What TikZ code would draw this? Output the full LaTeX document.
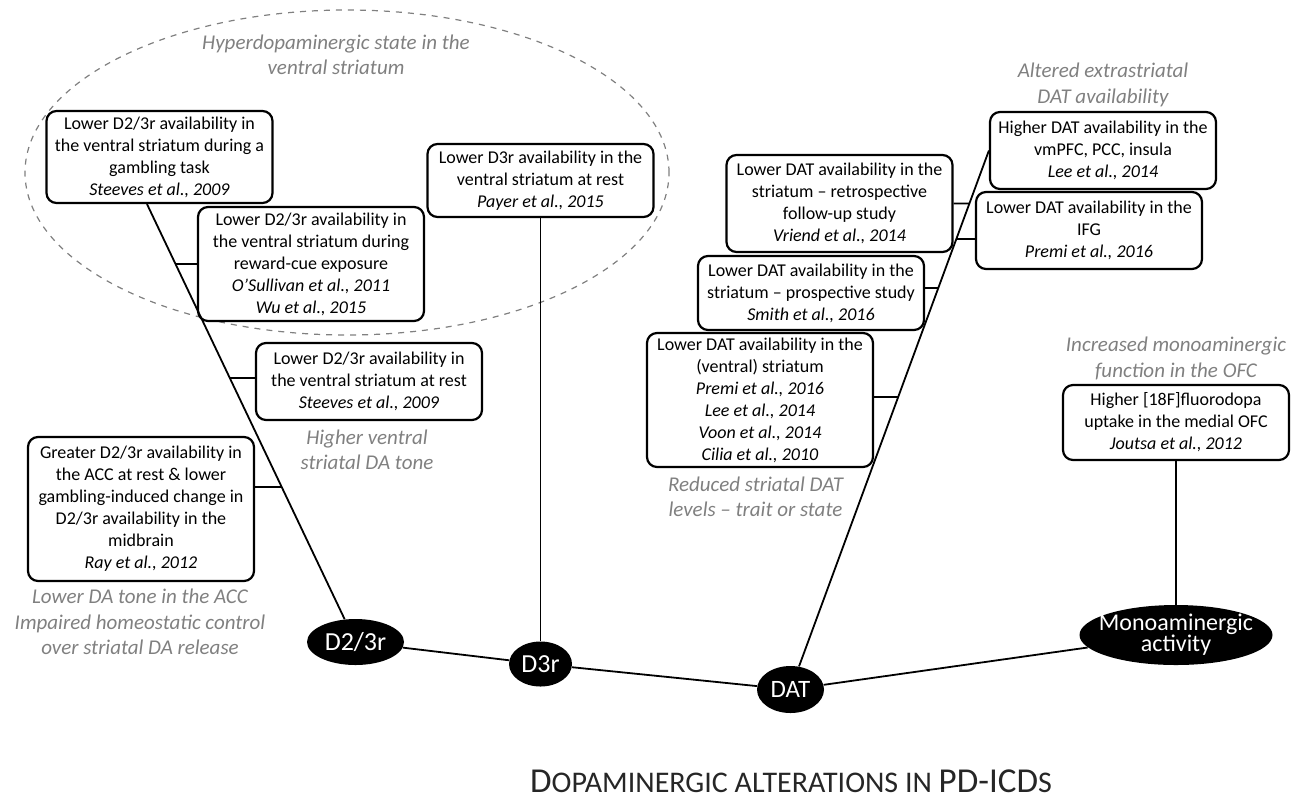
\documentclass[tikz,border=0pt]{standalone}
\usepackage{fontspec}
\setmainfont{Carlito}
\usepackage{tikz}
\usepackage{xcolor}
\usetikzlibrary{shapes.geometric,intersections}
\definecolor{note-gray}{RGB}{128,128,128}
\definecolor{title-gray}{RGB}{38,38,38}
\tikzset{
    finding-box/.style = {draw=black, fill=white, line width=1.1pt, rectangle, rounded corners=5pt, align=center, inner sep=1pt, minimum width=113pt, font=\fontsize{9}{11}\selectfont},
    finding-note/.style = {text=note-gray, align=center, font=\fontsize{10.5}{12.7}\selectfont\itshape},
    measure-node/.style = {ellipse, fill=black, text=white, align=center, inner sep=0pt, font=\fontsize{13}{13}\selectfont},
    spine/.style = {line width=0.9pt},
}

\begin{document}
\begin{tikzpicture}[x=0.5pt, y=-0.5pt]
\useasboundingbox (0,0) rectangle (1299,799);
\node [ellipse, draw=note-gray, dashed, line width=0.6pt, minimum width=322pt, minimum height=162.5pt, inner sep=0pt] (hyper-zone) at (347,172.5) {};
\node [finding-note] (hyper-note) at (336,54.5) {Hyperdopaminergic state in the\\ventral striatum};

\node [finding-box, minimum height=46pt] (gambling) at (159.5,157) {Lower D2/3r availability in\\the ventral striatum during a\\gambling task\\\textit{Steeves et al., 2009}};
\node [finding-box, minimum height=57pt] (cue) at (311,264) {Lower D2/3r availability in\\the ventral striatum during\\reward-cue exposure\\\textit{O’Sullivan et al., 2011}\\\textit{Wu et al., 2015}};
\node [finding-box, minimum height=36.5pt] (d3-rest) at (540.5,180.5) {Lower D3r availability in the\\ventral striatum at rest\\\textit{Payer et al., 2015}};
\node [finding-box, minimum height=38.5pt] (d23-rest) at (369,381.5) {Lower D2/3r availability in\\the ventral striatum at rest\\\textit{Steeves et al., 2009}};
\node [finding-note] (tone-note) at (367,449.5) {Higher ventral\\striatal DA tone};
\node [finding-box, minimum height=72pt] (acc) at (141,509) {Greater D2/3r availability in\\the ACC at rest \& lower\\gambling-induced change in\\D2/3r availability in the\\midbrain\\\textit{Ray et al., 2012}};
\node [finding-note] (acc-note) at (140,622) {Lower DA tone in the ACC\\Impaired homeostatic control\\over striatal DA release};

\node [finding-note] (extra-note) at (1103,85) {Altered extrastriatal\\DAT availability};
\node [finding-box, minimum height=38.5pt] (dat-extra) at (1103,150.5) {Higher DAT availability in the\\vmPFC, PCC, insula\\\textit{Lee et al., 2014}};
\node [finding-box, minimum height=38.5pt] (ifg) at (1089,230.5) {Lower DAT availability in the\\IFG\\\textit{Premi et al., 2016}};
\node [finding-box, minimum height=48.5pt] (retro) at (839.5,203.5) {Lower DAT availability in the\\striatum – retrospective\\follow-up study\\\textit{Vriend et al., 2014}};
\node [finding-box, minimum height=37pt] (prosp) at (811,293) {Lower DAT availability in the\\striatum – prospective study\\\textit{Smith et al., 2016}};
\node [finding-box, minimum height=67pt] (dat-striatum) at (760,400) {Lower DAT availability in the\\(ventral) striatum\\\textit{Premi et al., 2016}\\\textit{Lee et al., 2014}\\\textit{Voon et al., 2014}\\\textit{Cilia et al., 2010}};
\node [finding-note] (striatal-note) at (755.5,496.5) {Reduced striatal DAT\\levels – trait or state};

\node [finding-note] (ofc-note) at (1176,358.5) {Increased monoaminergic\\function in the OFC};
\node [finding-box, minimum height=37.5pt] (fdopa) at (1176,422.5) {Higher [18F]fluorodopa\\uptake in the medial OFC\\\textit{Joutsa et al., 2012}};

\node [measure-node, minimum width=48.5pt, minimum height=23pt] (d23) at (355.5,642) {D2/3r};
\node [measure-node, minimum width=31.5pt, minimum height=22.5pt] (d3r) at (540.5,664) {D3r};
\node [measure-node, minimum width=33.5pt, minimum height=23.5pt, font=\fontsize{12.5}{12.5}\selectfont] (dat) at (790.5,689.5) {DAT};
\node [measure-node, minimum width=96.5pt, minimum height=30pt, inner xsep=-5pt, font=\fontsize{12}{10.5}\selectfont] (mono) at (1176,635) {Monoaminergic\\activity};

\draw [spine, name path=d23-spine] ([xshift=-6.25pt]gambling.south) -- (d23);
\path [name path=cue-stub] (cue.west) -- ++(-60,0);
\draw [spine, name intersections={of=d23-spine and cue-stub, by=cue-tap}] (cue.west) -- (cue-tap);
\path [name path=rest-stub] ([yshift=1.75pt]d23-rest.west) -- ++(-60,0);
\draw [spine, name intersections={of=d23-spine and rest-stub, by=rest-tap}] ([yshift=1.75pt]d23-rest.west) -- (rest-tap);
\path [name path=acc-stub] ([yshift=11pt]acc.east) -- ++(60,0);
\draw [spine, name intersections={of=d23-spine and acc-stub, by=acc-tap}] ([yshift=11pt]acc.east) -- (acc-tap);

\draw [spine] (d3-rest.south) -- (d3r.north);

\draw [spine, name path=dat-spine] (dat-extra.west) -- (dat);
\path [name path=retro-stub] (retro.east) -- ++(60,0);
\draw [spine, name intersections={of=dat-spine and retro-stub, by=retro-tap}] (retro.east) -- (retro-tap);
\path [name path=ifg-stub] ([yshift=-4.25pt]ifg.west) -- ++(-60,0);
\draw [spine, name intersections={of=dat-spine and ifg-stub, by=ifg-tap}] ([yshift=-4.25pt]ifg.west) -- (ifg-tap);
\path [name path=prosp-stub] ([yshift=2.5pt]prosp.east) -- ++(60,0);
\draw [spine, name intersections={of=dat-spine and prosp-stub, by=prosp-tap}] ([yshift=2.5pt]prosp.east) -- (prosp-tap);
\path [name path=striatum-stub] ([yshift=1.5pt]dat-striatum.east) -- ++(60,0);
\draw [spine, name intersections={of=dat-spine and striatum-stub, by=striatum-tap}] ([yshift=1.5pt]dat-striatum.east) -- (striatum-tap);

\draw [spine] (fdopa.south) -- (mono.north);
\draw [spine] (d23) -- (d3r) -- (dat) -- (mono);

\node [anchor=base, inner sep=0pt, text=title-gray] (title) at (791,792) {{\fontsize{17.5}{20}\selectfont D}{\fontsize{15}{17}\selectfont OPAMINERGIC ALTERATIONS IN }{\fontsize{17.5}{20}\selectfont PD-ICD}{\fontsize{15}{17}\selectfont S}};
\end{tikzpicture}
\end{document}
